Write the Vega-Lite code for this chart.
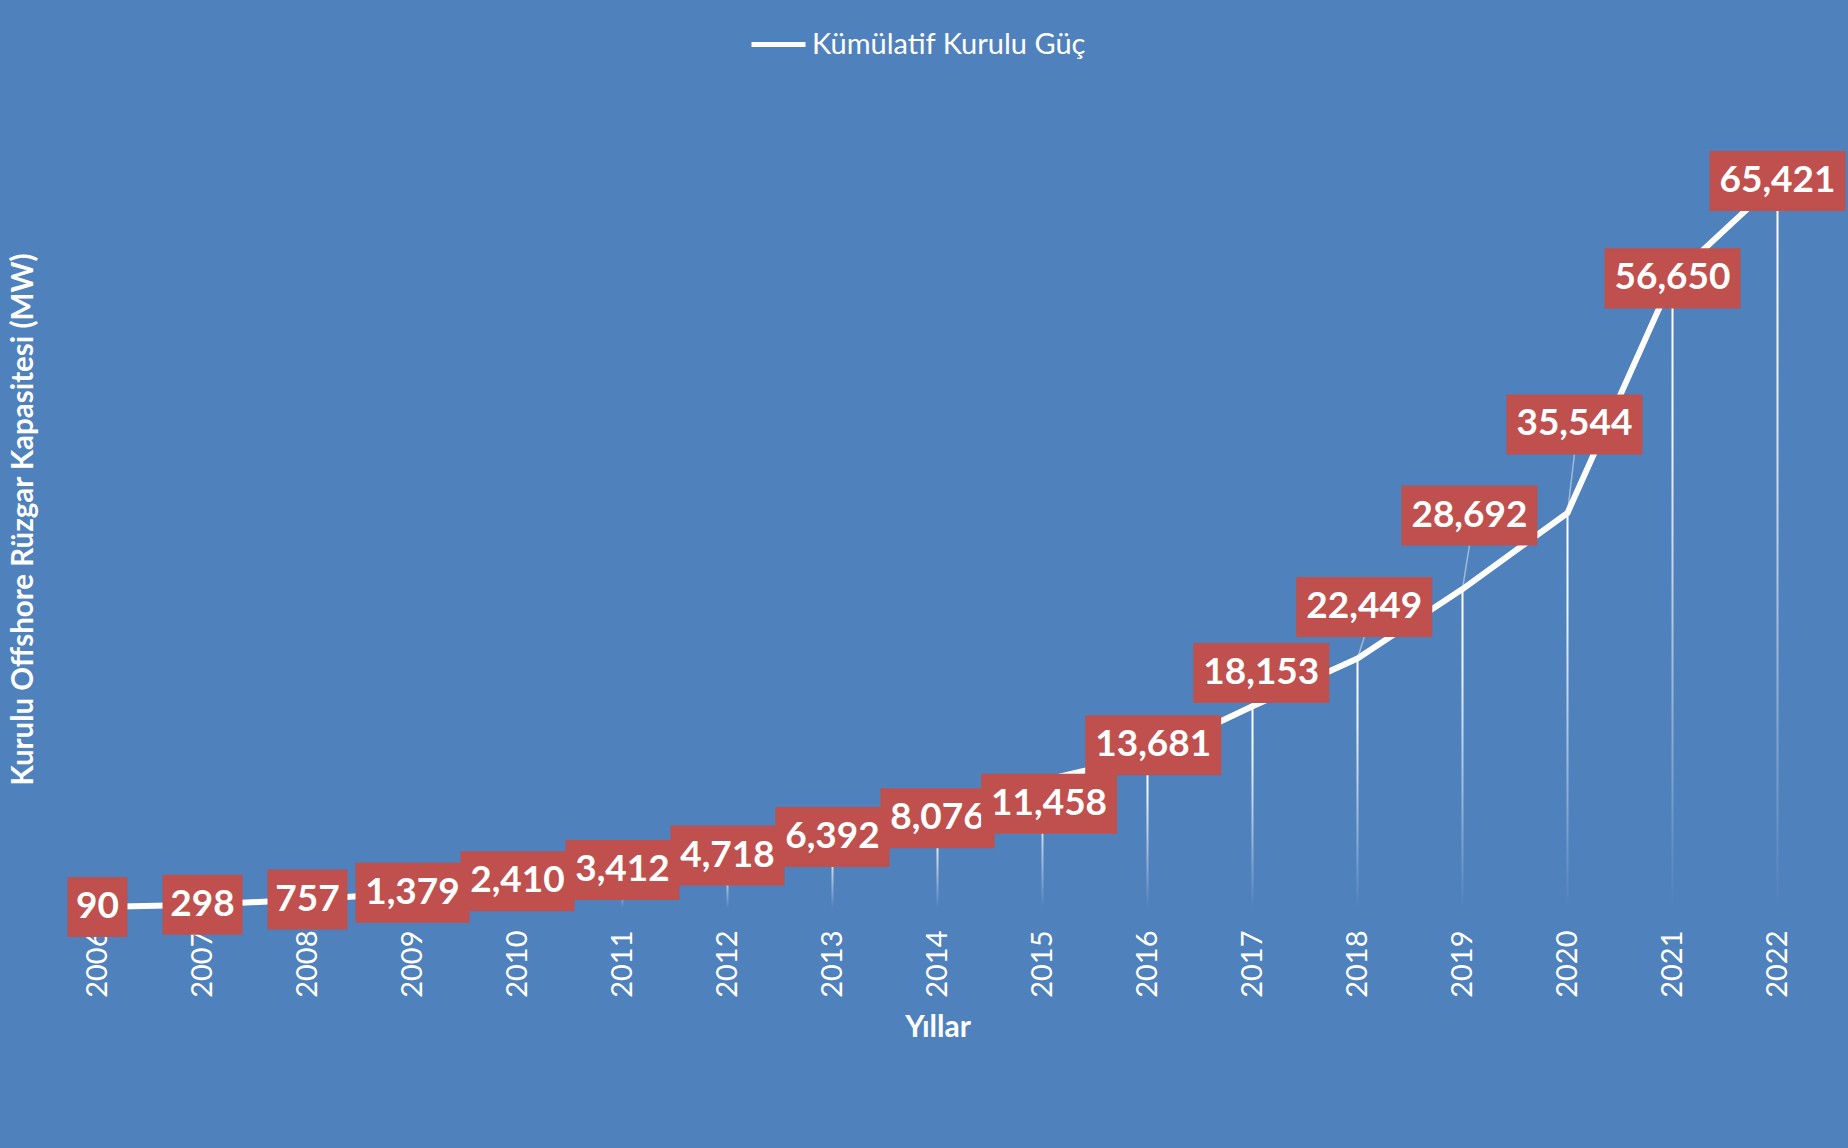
{
  "$schema": "https://vega.github.io/schema/vega-lite/v6.json",
  "width": 1785,
  "height": 778,
  "autosize": {"type": "none"},
  "padding": {"left": 45, "top": 130, "right": 18, "bottom": 240},
  "background": "#4F81BD",
  "config": {"view": {"stroke": null}, "font": "Lato"},
  "data": {
    "values": [
      {"year": "2006", "value": 90},
      {"year": "2007", "value": 298},
      {"year": "2008", "value": 757},
      {"year": "2009", "value": 1379},
      {"year": "2010", "value": 2410},
      {"year": "2011", "value": 3412},
      {"year": "2012", "value": 4718},
      {"year": "2013", "value": 6392},
      {"year": "2014", "value": 8076},
      {"year": "2015", "value": 11458},
      {"year": "2016", "value": 13681},
      {"year": "2017", "value": 18153},
      {"year": "2018", "value": 22449},
      {"year": "2019", "value": 28692},
      {"year": "2020", "value": 35544},
      {"year": "2021", "value": 56650},
      {"year": "2022", "value": 65421}
    ]
  },
  "encoding": {
    "x": {
      "field": "year",
      "type": "ordinal",
      "scale": {"type": "point", "padding": 0.5},
      "axis": {
        "title": "Yıllar",
        "labelAngle": 270,
        "labelFont": "Lato",
        "labelFontSize": 29,
        "labelColor": "#FFFFFF",
        "labelPadding": 22,
        "ticks": false,
        "tickSize": 0,
        "domain": false,
        "grid": false,
        "titleFont": "Lato",
        "titleFontSize": 30,
        "titleFontWeight": "bold",
        "titleColor": "#FFFFFF",
        "titlePadding": 15
      }
    },
    "y": {
      "field": "value",
      "type": "quantitative",
      "scale": {"domain": [0, 70000], "nice": false},
      "axis": {
        "labels": false,
        "ticks": false,
        "domain": false,
        "grid": false,
        "title": "Kurulu Offshore Rüzgar Kapasitesi (MW)",
        "titleFont": "Lato",
        "titleFontSize": 29.5,
        "titleFontWeight": "bold",
        "titleColor": "#FFFFFF",
        "titlePadding": 7
      }
    }
  },
  "layer": [
    {
      "mark": {
        "type": "bar",
        "width": 2,
        "fill": {
          "gradient": "linear",
          "x1": 0, "y1": 0, "x2": 0, "y2": 1,
          "stops": [
            {"offset": 0, "color": "#FFFFFF"},
            {"offset": 0.25, "color": "#F0F4FA"},
            {"offset": 1, "color": "#4F81BD"}
          ]
        }
      }
    },
    {
      "mark": {"type": "line", "strokeWidth": 6, "strokeJoin": "round", "strokeCap": "round"},
      "encoding": {
        "stroke": {
          "datum": "Kümülatif Kurulu Güç",
          "type": "nominal",
          "scale": {"range": ["#FFFFFF"]},
          "legend": {
            "orient": "none",
            "legendX": 704,
            "legendY": -115,
            "title": null,
            "symbolType": "stroke",
            "symbolSize": 2916,
            "symbolStrokeWidth": 5,
            "labelFont": "Lato",
            "labelFontSize": 29,
            "labelColor": "#FFFFFF",
            "labelOffset": 4,
            "labelLimit": 0,
            "padding": 0
          }
        }
      }
    },
    {
      "transform": [{"filter": {"field": "year", "oneOf": ["2006"]}}],
      "mark": {"type": "point", "shape": "M-1,-1H1V1H-1Z", "size": 3600, "filled": true, "color": "#C0504D", "opacity": 1, "strokeWidth": 0}
    },
    {
      "transform": [{"filter": {"field": "year", "oneOf": ["2007", "2008"]}}],
      "mark": {"type": "point", "shape": "M-1,-0.75H1V0.75H-1Z", "size": 6400, "filled": true, "color": "#C0504D", "opacity": 1, "strokeWidth": 0}
    },
    {
      "transform": [{"filter": {"field": "year", "oneOf": ["2009", "2010", "2011", "2012", "2013", "2014"]}}],
      "mark": {"type": "point", "shape": "M-1,-0.5263H1V0.5263H-1Z", "size": 12996, "filled": true, "color": "#C0504D", "opacity": 1, "strokeWidth": 0}
    },
    {
      "transform": [{"filter": {"field": "year", "oneOf": ["2021", "2022"]}}],
      "mark": {"type": "point", "shape": "M-1,-0.4412H1V0.4412H-1Z", "size": 18496, "filled": true, "color": "#C0504D", "opacity": 1, "strokeWidth": 0}
    },
    {
      "transform": [{"filter": {"field": "year", "oneOf": ["2006", "2007", "2008", "2009", "2010", "2011", "2012", "2013", "2014", "2021", "2022"]}}],
      "mark": {"type": "text", "font": "Lato", "fontSize": 37, "fontWeight": "bold", "color": "#FFFFFF", "align": "center", "baseline": "middle"},
      "encoding": {"text": {"field": "value", "type": "quantitative", "format": ","}}
    },
    {
      "transform": [{"filter": {"field": "year", "equal": "2015"}}],
      "layer": [
        {"mark": {"type": "point", "shape": "M-1,-0.4412H1V0.4412H-1Z", "size": 18496, "filled": true, "color": "#C0504D", "opacity": 1, "strokeWidth": 0, "xOffset": 6.6, "yOffset": 23}},
        {"mark": {"type": "text", "font": "Lato", "fontSize": 37, "fontWeight": "bold", "color": "#FFFFFF", "align": "center", "baseline": "middle", "xOffset": 6.6, "yOffset": 23},
         "encoding": {"text": {"field": "value", "type": "quantitative", "format": ","}}}
      ]
    },
    {
      "transform": [{"filter": {"field": "year", "equal": "2016"}}],
      "layer": [
        {"mark": {"type": "point", "shape": "M-1,-0.4412H1V0.4412H-1Z", "size": 18496, "filled": true, "color": "#C0504D", "opacity": 1, "strokeWidth": 0, "xOffset": 5.7, "yOffset": -10.6}},
        {"mark": {"type": "text", "font": "Lato", "fontSize": 37, "fontWeight": "bold", "color": "#FFFFFF", "align": "center", "baseline": "middle", "xOffset": 5.7, "yOffset": -10.6},
         "encoding": {"text": {"field": "value", "type": "quantitative", "format": ","}}}
      ]
    },
    {
      "transform": [{"filter": {"field": "year", "equal": "2017"}}],
      "layer": [
        {"mark": {"type": "point", "shape": "M-1,-0.4412H1V0.4412H-1Z", "size": 18496, "filled": true, "color": "#C0504D", "opacity": 1, "strokeWidth": 0, "xOffset": 8.8, "yOffset": -33.2}},
        {"mark": {"type": "text", "font": "Lato", "fontSize": 37, "fontWeight": "bold", "color": "#FFFFFF", "align": "center", "baseline": "middle", "xOffset": 8.8, "yOffset": -33.2},
         "encoding": {"text": {"field": "value", "type": "quantitative", "format": ","}}}
      ]
    },
    {
      "transform": [{"filter": {"field": "year", "equal": "2018"}}],
      "layer": [
        {"mark": {"type": "rule", "color": "#FFFFFF", "opacity": 0.45, "strokeWidth": 1.5, "x2Offset": 6.8, "y2Offset": -21.5},
         "encoding": {"x2": {"field": "year"}, "y2": {"field": "value"}}},
        {"mark": {"type": "point", "shape": "M-1,-0.4412H1V0.4412H-1Z", "size": 18496, "filled": true, "color": "#C0504D", "opacity": 1, "strokeWidth": 0, "xOffset": 6.8, "yOffset": -51.5}},
        {"mark": {"type": "text", "font": "Lato", "fontSize": 37, "fontWeight": "bold", "color": "#FFFFFF", "align": "center", "baseline": "middle", "xOffset": 6.8, "yOffset": -51.5},
         "encoding": {"text": {"field": "value", "type": "quantitative", "format": ","}}}
      ]
    },
    {
      "transform": [{"filter": {"field": "year", "equal": "2019"}}],
      "layer": [
        {"mark": {"type": "rule", "color": "#FFFFFF", "opacity": 0.45, "strokeWidth": 1.5, "x2Offset": 6.9, "y2Offset": -43.6},
         "encoding": {"x2": {"field": "year"}, "y2": {"field": "value"}}},
        {"mark": {"type": "point", "shape": "M-1,-0.4412H1V0.4412H-1Z", "size": 18496, "filled": true, "color": "#C0504D", "opacity": 1, "strokeWidth": 0, "xOffset": 6.9, "yOffset": -73.6}},
        {"mark": {"type": "text", "font": "Lato", "fontSize": 37, "fontWeight": "bold", "color": "#FFFFFF", "align": "center", "baseline": "middle", "xOffset": 6.9, "yOffset": -73.6},
         "encoding": {"text": {"field": "value", "type": "quantitative", "format": ","}}}
      ]
    },
    {
      "transform": [{"filter": {"field": "year", "equal": "2020"}}],
      "layer": [
        {"mark": {"type": "rule", "color": "#FFFFFF", "opacity": 0.45, "strokeWidth": 1.5, "x2Offset": 6.9, "y2Offset": -58.5},
         "encoding": {"x2": {"field": "year"}, "y2": {"field": "value"}}},
        {"mark": {"type": "point", "shape": "M-1,-0.4412H1V0.4412H-1Z", "size": 18496, "filled": true, "color": "#C0504D", "opacity": 1, "strokeWidth": 0, "xOffset": 6.9, "yOffset": -88.5}},
        {"mark": {"type": "text", "font": "Lato", "fontSize": 37, "fontWeight": "bold", "color": "#FFFFFF", "align": "center", "baseline": "middle", "xOffset": 6.9, "yOffset": -88.5},
         "encoding": {"text": {"field": "value", "type": "quantitative", "format": ","}}}
      ]
    }
  ]
}
